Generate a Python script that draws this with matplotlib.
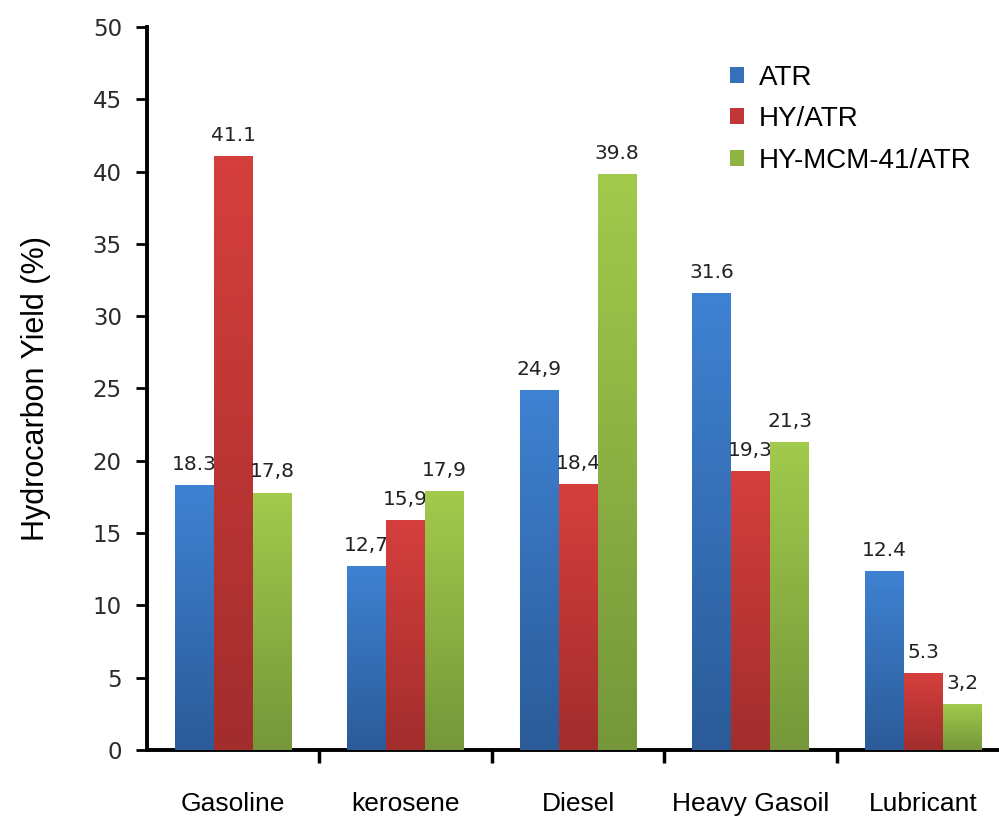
import numpy as np
import matplotlib
matplotlib.use("Agg")
import matplotlib.pyplot as plt
from matplotlib.colors import LinearSegmentedColormap
from matplotlib.patches import Patch

# data
categories = ["Gasoline", "kerosene", "Diesel", "Heavy Gasoil", "Lubricant"]
series = ["ATR", "HY/ATR", "HY-MCM-41/ATR"]
atr = [18.3, 12.7, 24.9, 31.6, 12.4]
hy_atr = [41.1, 15.9, 18.4, 19.3, 5.3]
hy_mcm = [17.8, 17.9, 39.8, 21.3, 3.2]
labels_atr = ["18.3", "12,7", "24,9", "31.6", "12.4"]
labels_hy = ["41.1", "15,9", "18,4", "19,3", "5.3"]
labels_mcm = ["17,8", "17,9", "39.8", "21,3", "3,2"]

# top / bottom colours of the gradient
grad = [("#3f82d2", "#2b5b98"), ("#d53f3d", "#a22d2d"), ("#a2ca4c", "#75973a")]
mid = ["#3670b8", "#c13636", "#8fb443"]

fig = plt.figure(figsize=(9.99, 8.17), dpi=100)
ax = fig.add_axes([0.147, 0.082, 0.853, 0.885])

x = np.arange(len(categories))
w = 0.226
values = [atr, hy_atr, hy_mcm]
texts = [labels_atr, labels_hy, labels_mcm]

for i, (vals, lab) in enumerate(zip(values, texts)):
    bars = ax.bar(x + (i - 1) * w, vals, w, color=mid[i], zorder=2)
    cmap = LinearSegmentedColormap.from_list("g%d" % i, [grad[i][1], grad[i][0]])
    for b, t in zip(bars, lab):
        bx, by = b.get_x(), b.get_y()
        bw, bh = b.get_width(), b.get_height()
        img = ax.imshow(np.linspace(0, 1, 256).reshape(-1, 1), cmap=cmap,
                        origin="lower", aspect="auto",
                        extent=[bx, bx + bw, by, by + bh], zorder=3)
        img.set_clip_path(b)
        ax.annotate(t, (bx + bw / 2, bh), xytext=(0, 8), textcoords="offset points",
                    ha="center", va="bottom", fontsize=14.5, family="DejaVu Sans",
                    color="#222222")

ax.set_xlim(-0.5, 4.44)
ax.set_ylim(0, 50)
ax.set_yticks(np.arange(0, 51, 5))
ax.set_xticks(x)
ax.set_xticklabels(categories, fontsize=19, family="Liberation Sans")
ax.set_xticks(np.arange(0.5, 4, 1), minor=True)
ax.tick_params(axis="x", which="major", length=0, pad=30)
ax.tick_params(axis="x", which="minor", length=9, width=2.5, direction="out")
ax.tick_params(axis="y", length=8, width=2, direction="out", labelsize=16.5, pad=10)
for lbl in ax.get_yticklabels():
    lbl.set_family("DejaVu Sans")
    lbl.set_color("#2a2a2a")

for s in ["top", "right"]:
    ax.spines[s].set_visible(False)
ax.spines["left"].set_linewidth(2.8)
ax.spines["bottom"].set_linewidth(2.8)

ax.set_ylabel("Hydrocarbon Yield (%)", fontsize=22, family="Liberation Sans", labelpad=30)

handles = [Patch(facecolor=mid[i], label=series[i]) for i in range(3)]
ax.legend(handles=handles, loc="upper left", bbox_to_anchor=(0.655, 0.982), frameon=False,
          prop={"family": "Liberation Sans", "size": 20}, handlelength=0.5, handleheight=0.5,
          handletextpad=0.55, labelspacing=0.55)

plt.savefig("out.png", dpi=100)
